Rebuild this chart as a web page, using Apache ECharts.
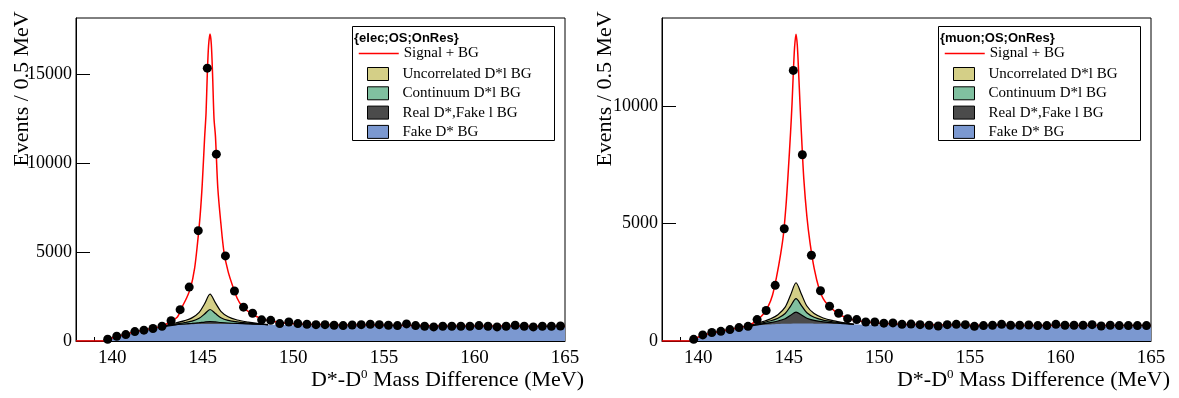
<!DOCTYPE html>
<html lang="en">
<head>
    <meta charset="UTF-8">
    <title>D* - D0 mass difference</title>
    <script type="text/javascript" src="https://cdn.jsdelivr.net/npm/echarts@6/dist/echarts.min.js"></script>
    <style>
        body { margin: 0; background: #fff; }
    </style>
</head>
<body>
    <div id="main" style="width: 1179px; height: 398px;"></div>
    <script type="text/javascript">

// bin centres (0.5 MeV bins)
var binX = [139.75, 140.25, 140.75, 141.25, 141.75, 142.25, 142.75, 143.25, 143.75, 144.25,
    144.75, 145.25, 145.75, 146.25, 146.75, 147.25, 147.75, 148.25, 148.75, 149.25,
    149.75, 150.25, 150.75, 151.25, 151.75, 152.25, 152.75, 153.25, 153.75, 154.25,
    154.75, 155.25, 155.75, 156.25, 156.75, 157.25, 157.75, 158.25, 158.75, 159.25,
    159.75, 160.25, 160.75, 161.25, 161.75, 162.25, 162.75, 163.25, 163.75, 164.25, 164.75];

var dataElec = [100, 270, 360, 530, 610, 700, 830, 1140, 1760, 3030,
    6200, 15330, 10500, 4780, 2810, 1900, 1560, 1190, 1160, 980,
    1070, 980, 940, 920, 920, 885, 865, 900, 920, 940,
    920, 885, 865, 960, 865, 830, 790, 830, 830, 830,
    830, 865, 830, 790, 830, 885, 830, 790, 830, 830, 845];

var dataMuon = [70, 260, 360, 410, 485, 570, 625, 910, 1300, 2370,
    4780, 11520, 7930, 3650, 2140, 1480, 1180, 950, 910, 810,
    810, 760, 770, 710, 720, 695, 670, 640, 695, 710,
    695, 625, 655, 670, 710, 670, 670, 680, 655, 655,
    710, 670, 670, 670, 695, 640, 670, 655, 655, 655, 655];

// fit curve (Signal + BG)
var fitX = [138, 139.65, 139.8, 140.2, 140.7, 141.2, 141.7, 142.2, 142.7, 143.2,
    143.6, 143.85, 144.1, 144.33, 144.55, 144.7, 144.85, 144.97, 145.1, 145.18,
    145.25, 145.32, 145.4, 145.47, 145.54, 145.62, 145.7, 145.83, 146.0, 146.17,
    146.4, 146.68, 146.9, 147.14, 147.6, 148.2, 149, 150, 152, 155,
    158, 162, 165];

var fitElec = [0, 0, 110, 240, 370, 500, 610, 710, 820, 1080,
    1350, 1900, 2400, 3000, 4100, 5400, 7000, 8800, 11400, 12800,
    15000, 16600, 17250, 16700, 15000, 12500, 11500, 8600, 6600, 5000,
    3900, 3000, 2400, 2000, 1600, 1270, 1080, 970, 920, 890,
    860, 840, 830];

var fitMuon = [0, 0, 90, 220, 330, 410, 490, 560, 650, 850,
    1150, 1450, 1950, 2750, 3700, 4500, 5800, 7200, 8900, 10100,
    11400, 12500, 13060, 12600, 11500, 10100, 8800, 6900, 5300, 4200,
    3100, 2200, 1800, 1550, 1230, 980, 840, 760, 700, 675,
    665, 660, 655];

// background components, common grid (each array is that component's own size)
var bgX = [138, 139.6, 140, 140.5, 141, 141.5, 142, 142.6, 143, 143.5,
    144, 144.4, 144.8, 145.1, 145.4, 145.7, 146, 146.4, 146.9, 147.5,
    148, 148.6, 150, 152, 155, 158, 162, 165];

var fakeDElec = [0, 0, 170, 300, 420, 540, 630, 740, 830, 890,
    920, 940, 950, 955, 960, 960, 960, 955, 950, 940,
    930, 915, 890, 870, 840, 810, 785, 770];
var realDElec = [null, null, null, null, null, null, null, 0, 10, 20,
    35, 50, 80, 110, 130, 110, 80, 55, 35, 20,
    10, 0, null, null, null, null, null, null];
var contElec = [null, null, null, null, null, null, null, 0, 20, 40,
    80, 130, 250, 450, 680, 470, 270, 150, 85, 45,
    20, 0, null, null, null, null, null, null];
var uncorElec = [null, null, null, null, null, null, null, 0, 30, 60,
    110, 180, 330, 580, 860, 600, 360, 200, 110, 60,
    30, 0, null, null, null, null, null, null];

var fakeDMuon = [0, 0, 150, 260, 350, 420, 490, 570, 630, 680,
    705, 720, 730, 735, 740, 740, 740, 738, 735, 728,
    720, 712, 690, 670, 645, 625, 610, 600];
var realDMuon = [null, null, null, null, null, null, null, 0, 20, 40,
    80, 130, 220, 360, 490, 370, 230, 140, 80, 40,
    20, 0, null, null, null, null, null, null];
var contMuon = [null, null, null, null, null, null, null, 0, 20, 40,
    75, 120, 220, 390, 570, 400, 230, 130, 75, 40,
    20, 0, null, null, null, null, null, null];
var uncorMuon = [null, null, null, null, null, null, null, 0, 25, 50,
    90, 150, 270, 470, 680, 480, 290, 160, 90, 50,
    25, 0, null, null, null, null, null, null];

var panelTitles = ['{elec;OS;OnRes}', '{muon;OS;OnRes}'];
var yTicks = [0, 5000, 10000, 15000];
var xTicks = [140, 145, 150, 155, 160, 165];
var yMax = [18150, 13750];

var colFake = '#7b98d0';
var colReal = '#4b4b4b';
var colCont = '#80c0a0';
var colUncor = '#d4cf87';

var serif = 'Liberation Serif, Times New Roman, serif';

// running sum of the components, bottom one first; null stays null (not drawn)
function cumulate(comps) {
    var out = [];
    var run = bgX.map(function () { return 0; });
    comps.forEach(function (c) {
        run = run.map(function (r, i) { return r + (c[i] == null ? 0 : c[i]); });
        out.push(run.map(function (r, i) { return c[i] == null ? null : r; }));
    });
    return out;
}

function pairs(xs, ys) {
    return xs.map(function (x, i) {
        return [x, ys[i] == null ? '-' : ys[i]];
    });
}

var chartDom = document.getElementById('main');
var myChart = echarts.init(chartDom);

var panels = [
    { left: 76, points: dataElec, fit: fitElec, comps: [fakeDElec, realDElec, contElec, uncorElec] },
    { left: 662, points: dataMuon, fit: fitMuon, comps: [fakeDMuon, realDMuon, contMuon, uncorMuon] }
];
var compNames = ['Fake D* BG', 'Real D*,Fake l BG', 'Continuum D*l BG', 'Uncorrelated D*l BG'];
var compColors = [colFake, colReal, colCont, colUncor];

var grids = [], xAxes = [], yAxes = [], series = [], legends = [], graphics = [];

panels.forEach(function (p, k) {
    grids.push({
        left: p.left, top: 18, width: 489, height: 323,
        show: true, borderColor: '#000', borderWidth: 1
    });
    xAxes.push({
        type: 'value', gridIndex: k, min: 138, max: 165,
        axisLine: { show: true, onZero: false, lineStyle: { color: '#000', width: 1 } },
        axisTick: { show: true, inside: true, length: 4, customValues: [139], lineStyle: { color: '#000' } },
        axisLabel: {
            customValues: xTicks, margin: 8, color: '#000',
            fontFamily: serif, fontSize: 19
        },
        splitLine: { show: false }
    });
    yAxes.push({
        type: 'value', gridIndex: k, min: 0, max: yMax[k],
        axisLine: { show: true, lineStyle: { color: '#000', width: 1 } },
        axisTick: { show: true, inside: true, length: 14, customValues: yTicks, lineStyle: { color: '#000' } },
        axisLabel: {
            customValues: yTicks, margin: 4, color: '#000',
            fontFamily: serif, fontSize: 18,
            formatter: function (v) { return String(v); }
        },
        splitLine: { show: false }
    });

    // draw the largest sum first so each lower layer paints over it
    var cum = cumulate(p.comps);
    for (var j = 3; j >= 0; j--) {
        series.push({
            name: compNames[j],
            type: 'line',
            xAxisIndex: k, yAxisIndex: k,
            smooth: 0.3,
            symbol: 'none',
            data: pairs(bgX, cum[j]),
            lineStyle: j === 0 ? { width: 0 } : { color: '#000', width: 1.2 },
            itemStyle: { color: compColors[j] },
            areaStyle: { color: compColors[j], opacity: 1, origin: 'start' },
            silent: true, z: 2
        });
    }

    series.push({
        name: 'Signal + BG',
        type: 'line',
        xAxisIndex: k, yAxisIndex: k,
        smooth: 0.3,
        symbol: 'none',
        data: pairs(fitX, p.fit),
        lineStyle: { color: '#ff0000', width: 1.5 },
        itemStyle: { color: '#ff0000' },
        silent: true, z: 3
    });

    series.push({
        name: 'data',
        type: 'scatter',
        xAxisIndex: k, yAxisIndex: k,
        symbolSize: 9,
        data: pairs(binX, p.points),
        itemStyle: { color: '#000', opacity: 1 },
        silent: true, z: 4
    });

    var off = k * 586;
    legends.push({
        left: 358 + off, top: 46, orient: 'vertical', padding: 0,
        itemWidth: 40, itemHeight: 14, selectedMode: false,
        textStyle: { fontFamily: serif, fontSize: 15, color: '#000' },
        data: [{
            name: 'Signal + BG', icon: 'line',
            itemStyle: { color: '#ff0000', borderColor: '#ff0000', borderWidth: 1.5 }
        }]
    });
    legends.push({
        left: 367 + off, top: 66.5, orient: 'vertical', padding: 0,
        itemWidth: 21, itemHeight: 13, itemGap: 4.3, selectedMode: false,
        textStyle: { fontFamily: serif, fontSize: 15, color: '#000', padding: [0, 0, 0, 9] },
        data: [3, 2, 1, 0].map(function (j) {
            return {
                name: compNames[j], icon: 'rect',
                itemStyle: { color: compColors[j], borderColor: '#000', borderWidth: 1 }
            };
        })
    });

    graphics.push({
        type: 'rect', z: 1,
        shape: { x: 352.5 + off, y: 26.5, width: 202, height: 114 },
        style: { fill: '#fff', stroke: '#000', lineWidth: 1 }
    });
    graphics.push({
        type: 'text', z: 2, x: 354 + off, y: 38,
        style: {
            text: panelTitles[k], fill: '#000',
            fontFamily: 'Liberation Sans, Arial, sans-serif', fontWeight: 'bold', fontSize: 13,
            align: 'left', verticalAlign: 'middle'
        }
    });
    graphics.push({
        type: 'text', x: 22 + k * 583, y: 89, rotation: Math.PI / 2,
        style: {
            text: 'Events / 0.5 MeV', fill: '#000', fontFamily: serif, fontSize: 22,
            align: 'center', verticalAlign: 'middle'
        }
    });
    graphics.push({
        type: 'text', x: 584 + off, y: 380,
        style: {
            text: 'D*-D{s|0} Mass Difference (MeV)', fill: '#000', fontFamily: serif, fontSize: 22,
            align: 'right', verticalAlign: 'middle', lineHeight: 24,
            rich: { s: { fontFamily: serif, fontSize: 13, lineHeight: 24, verticalAlign: 'top', fill: '#000' } }
        }
    });
});

var option = {
    animation: false,
    backgroundColor: '#fff',
    grid: grids,
    xAxis: xAxes,
    yAxis: yAxes,
    legend: legends,
    graphic: graphics,
    series: series
};

option && myChart.setOption(option);
    </script>
</body>
</html>
